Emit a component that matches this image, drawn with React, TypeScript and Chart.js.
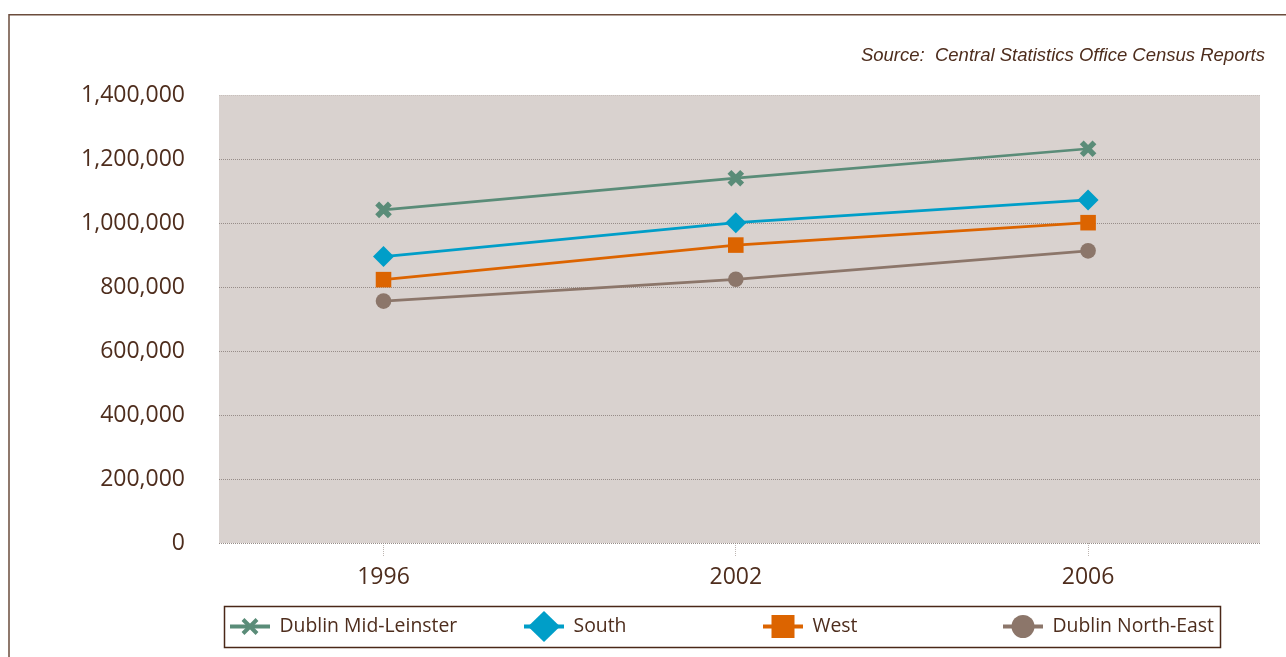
import React, { useEffect, useRef } from "react";
import { Chart, registerables } from "chart.js";

Chart.register(...registerables);

// Census years shown along the horizontal axis
const years = ["1996", "2002", "2006"];

// Region names, in legend order
const regionNames = ["Dublin Mid-Leinster", "South", "West", "Dublin North-East"];

// Population by region for each census year
const dublinMidLeinster = [1041000, 1140000, 1232000];
const south = [895000, 1001000, 1072000];
const west = [823000, 931000, 1001000];
const dublinNorthEast = [756000, 824000, 913000];

// Vertical axis range
const yMin = 0;
const yMax = 1400000;
const yStep = 200000;

const sourceNote = "Source:  Central Statistics Office Census Reports";

const TEXT = "#4e2d1d";
const FRAME = "#6b4c3c";
const LEGEND_BORDER = "#4a2818";
const PLOT_BG = "#d9d2cf";
const GRID = "#978d89";
const GRID_TOP = "#c9c1bd";
const TICK_MARK = "#bdb5b1";
const FONT = "'Open Sans', 'DejaVu Sans', sans-serif";

const seriesStyle = [
  { color: "#5a8c78", pointStyle: "crossRot", radius: 9, borderW: 5.5 },
  { color: "#009ec8", pointStyle: "rectRot", radius: 10.5, borderW: 0 },
  { color: "#dc6400", pointStyle: "rect", radius: 11, borderW: 0 },
  { color: "#8c766a", pointStyle: "circle", radius: 7.8, borderW: 0 },
];

const seriesValues = [dublinMidLeinster, south, west, dublinNorthEast];

// Left edge of each legend entry's symbol
const legendX = [230, 524, 763, 1003];

function drawLegendMarker(ctx: CanvasRenderingContext2D, style: string, cx: number, cy: number, color: string) {
  ctx.save();
  ctx.fillStyle = color;
  ctx.strokeStyle = color;
  if (style === "crossRot") {
    ctx.lineWidth = 4;
    ctx.beginPath();
    ctx.moveTo(cx - 7, cy - 7);
    ctx.lineTo(cx + 7, cy + 7);
    ctx.moveTo(cx + 7, cy - 7);
    ctx.lineTo(cx - 7, cy + 7);
    ctx.stroke();
  } else if (style === "rectRot") {
    ctx.beginPath();
    ctx.moveTo(cx, cy - 15.5);
    ctx.lineTo(cx + 16, cy);
    ctx.lineTo(cx, cy + 15.5);
    ctx.lineTo(cx - 16, cy);
    ctx.closePath();
    ctx.fill();
  } else if (style === "rect") {
    ctx.fillRect(cx - 11.5, cy - 11.5, 23, 23);
  } else {
    ctx.beginPath();
    ctx.arc(cx, cy, 11.5, 0, Math.PI * 2);
    ctx.fill();
  }
  ctx.restore();
}

const decorPlugin = {
  id: "decor",
  beforeDraw(chart: any) {
    const { ctx, chartArea } = chart;
    ctx.save();
    ctx.fillStyle = "#ffffff";
    ctx.fillRect(0, 0, chart.width, chart.height);
    ctx.fillStyle = PLOT_BG;
    ctx.fillRect(chartArea.left, chartArea.top, chartArea.right - chartArea.left, chartArea.bottom - chartArea.top);

    // outer frame (left and top edges)
    ctx.strokeStyle = FRAME;
    ctx.lineWidth = 1.5;
    ctx.beginPath();
    ctx.moveTo(9, chart.height);
    ctx.lineTo(9, 14.75);
    ctx.lineTo(chart.width, 14.75);
    ctx.stroke();

    // source note
    ctx.font = "italic 18.5px 'Liberation Sans', Arial, sans-serif";
    ctx.fillStyle = TEXT;
    ctx.textAlign = "right";
    ctx.textBaseline = "alphabetic";
    ctx.fillText(sourceNote, 1265, 61);
    ctx.restore();
  },
  afterDraw(chart: any) {
    const { ctx } = chart;
    ctx.save();
    // legend box
    ctx.strokeStyle = LEGEND_BORDER;
    ctx.lineWidth = 1.5;
    ctx.strokeRect(224.5, 606.5, 996, 41);

    const cy = 626.5;
    chart.data.datasets.forEach((ds: any, i: number) => {
      const x0 = legendX[i];
      const st = seriesStyle[i];
      ctx.strokeStyle = st.color;
      ctx.lineWidth = 4;
      ctx.beginPath();
      ctx.moveTo(x0, cy);
      ctx.lineTo(x0 + 40, cy);
      ctx.stroke();
      drawLegendMarker(ctx, st.pointStyle, x0 + 20, cy, st.color);

      ctx.font = `19.4px ${FONT}`;
      ctx.fillStyle = TEXT;
      ctx.textAlign = "left";
      ctx.textBaseline = "middle";
      ctx.fillText(ds.label, x0 + 49.5, cy);
    });
    ctx.restore();
  },
};

export default function App() {
  const canvasRef = useRef<HTMLCanvasElement | null>(null);

  useEffect(() => {
    if (!canvasRef.current) return;
    const datasets = seriesValues.map((vals, i) => {
      const st = seriesStyle[i];
      return {
        label: regionNames[i],
        data: vals.map((v, j) => ({ x: j, y: v })),
        borderColor: st.color,
        backgroundColor: st.color,
        borderWidth: 2.7,
        pointStyle: st.pointStyle as any,
        pointRadius: st.radius,
        pointHoverRadius: st.radius,
        pointBorderWidth: st.borderW,
        pointBorderColor: st.color,
        pointBackgroundColor: st.color,
        tension: 0,
        fill: false,
      };
    });

    const chart = new Chart(canvasRef.current, {
      type: "line",
      data: { datasets },
      options: {
        animation: false,
        responsive: false,
        devicePixelRatio: 1,
        layout: { padding: { left: 0, top: 95, right: 26, bottom: 0 } },
        plugins: {
          legend: { display: false },
          tooltip: { enabled: false },
          title: { display: false },
        },
        scales: {
          x: {
            type: "linear",
            min: -0.467,
            max: 2.488,
            afterBuildTicks: (axis: any) => {
              axis.ticks = years.map((_, i) => ({ value: i }));
            },
            afterFit: (scale: any) => {
              scale.height = 114;
            },
            ticks: {
              autoSkip: false,
              maxRotation: 0,
              padding: 7,
              color: TEXT,
              font: { family: FONT, size: 23 },
              callback: (value: any) => years[Math.round(Number(value))] ?? "",
            },
            grid: {
              display: true,
              drawOnChartArea: false,
              drawTicks: true,
              tickLength: 14,
              tickColor: TICK_MARK,
              tickWidth: 1,
              tickBorderDash: [1, 1],
            },
            border: { display: false },
          },
          y: {
            type: "linear",
            min: yMin,
            max: yMax,
            afterFit: (scale: any) => {
              scale.width = 219;
            },
            ticks: {
              stepSize: yStep,
              padding: 34,
              color: TEXT,
              font: { family: FONT, size: 23 },
              callback: (value: any) => Number(value).toLocaleString("en-US"),
            },
            grid: {
              display: true,
              drawTicks: false,
              lineWidth: 1,
              color: (ctx: any) => (ctx.tick && ctx.tick.value === yMax ? GRID_TOP : GRID),
            },
            border: { display: false, dash: [1, 1] },
          },
        },
      },
      plugins: [decorPlugin],
    });

    return () => chart.destroy();
  }, []);

  return (
    <div style={{ position: "absolute", left: 0, top: 0, width: 1286, height: 657, background: "#fff" }}>
      <canvas ref={canvasRef} width={1286} height={657} style={{ display: "block" }} />
    </div>
  );
}
